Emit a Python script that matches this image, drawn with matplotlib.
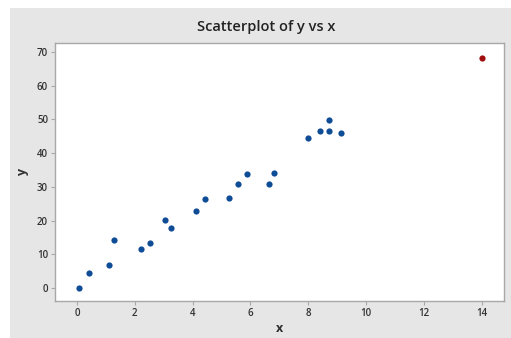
import matplotlib
matplotlib.use("Agg")

import matplotlib.pyplot as plt
from matplotlib.patches import Rectangle

# values
x_main = [0.07, 0.43, 1.10, 1.27, 2.21, 2.54, 3.04, 3.25, 4.12, 4.44, 5.26,
          5.57, 5.89, 6.64, 6.80, 7.98, 8.41, 8.70, 8.73, 9.12]
y_main = [0.0, 4.4, 6.8, 14.2, 11.6, 13.3, 20.2, 17.9, 22.9, 26.3, 26.6,
          31.0, 33.8, 31.0, 34.1, 44.5, 46.5, 46.5, 49.9, 45.9]
x_out = [14.0]
y_out = [68.2]

xticks = [0, 2, 4, 6, 8, 10, 12, 14]
yticks = [0, 10, 20, 30, 40, 50, 60, 70]

plt.rcParams['font.family'] = ['Open Sans', 'DejaVu Sans']

fig = plt.figure(figsize=(5.11, 3.38), dpi=100, facecolor="white")
fig.patches.append(Rectangle((10 / 511, 0), 1, 330 / 338, transform=fig.transFigure,
                             facecolor="#e6e6e6", edgecolor="none", zorder=-10))

ax = fig.add_axes([55 / 511, 37 / 338, 449 / 511, 257.7 / 338])
ax.set_facecolor("white")

ax.scatter(x_main, y_main, s=20, color="#0f4c96", zorder=3, linewidths=0)
ax.scatter(x_out, y_out, s=20, color="#a10c0c", zorder=3, linewidths=0)

ax.set_xlim(-0.76, 14.77)
ax.set_ylim(-3.86, 72.6)
ax.set_xticks(xticks)
ax.set_yticks(yticks)

for s in ax.spines.values():
    s.set_color("#a8a8a8")
    s.set_linewidth(1.0)

ax.tick_params(direction="out", length=3, width=0.8, color="#a8a8a8",
               labelsize=7, labelcolor="#333333", pad=2)
for lbl in ax.get_xticklabels() + ax.get_yticklabels():
    lbl.set_fontweight("semibold")

# title sits a little left of the axes centre in the original
fig.text(266 / 511, 1 - 27 / 338, "Scatterplot of y vs x", fontsize=10.5,
         color="#222222", fontweight="semibold", ha="center", va="center")
ax.set_xlabel("x", fontsize=9, color="#303030", fontweight="bold", labelpad=2)
ax.set_ylabel("y", fontsize=9, color="#303030", fontweight="bold", labelpad=6)

fig.savefig("out.png", dpi=100)
